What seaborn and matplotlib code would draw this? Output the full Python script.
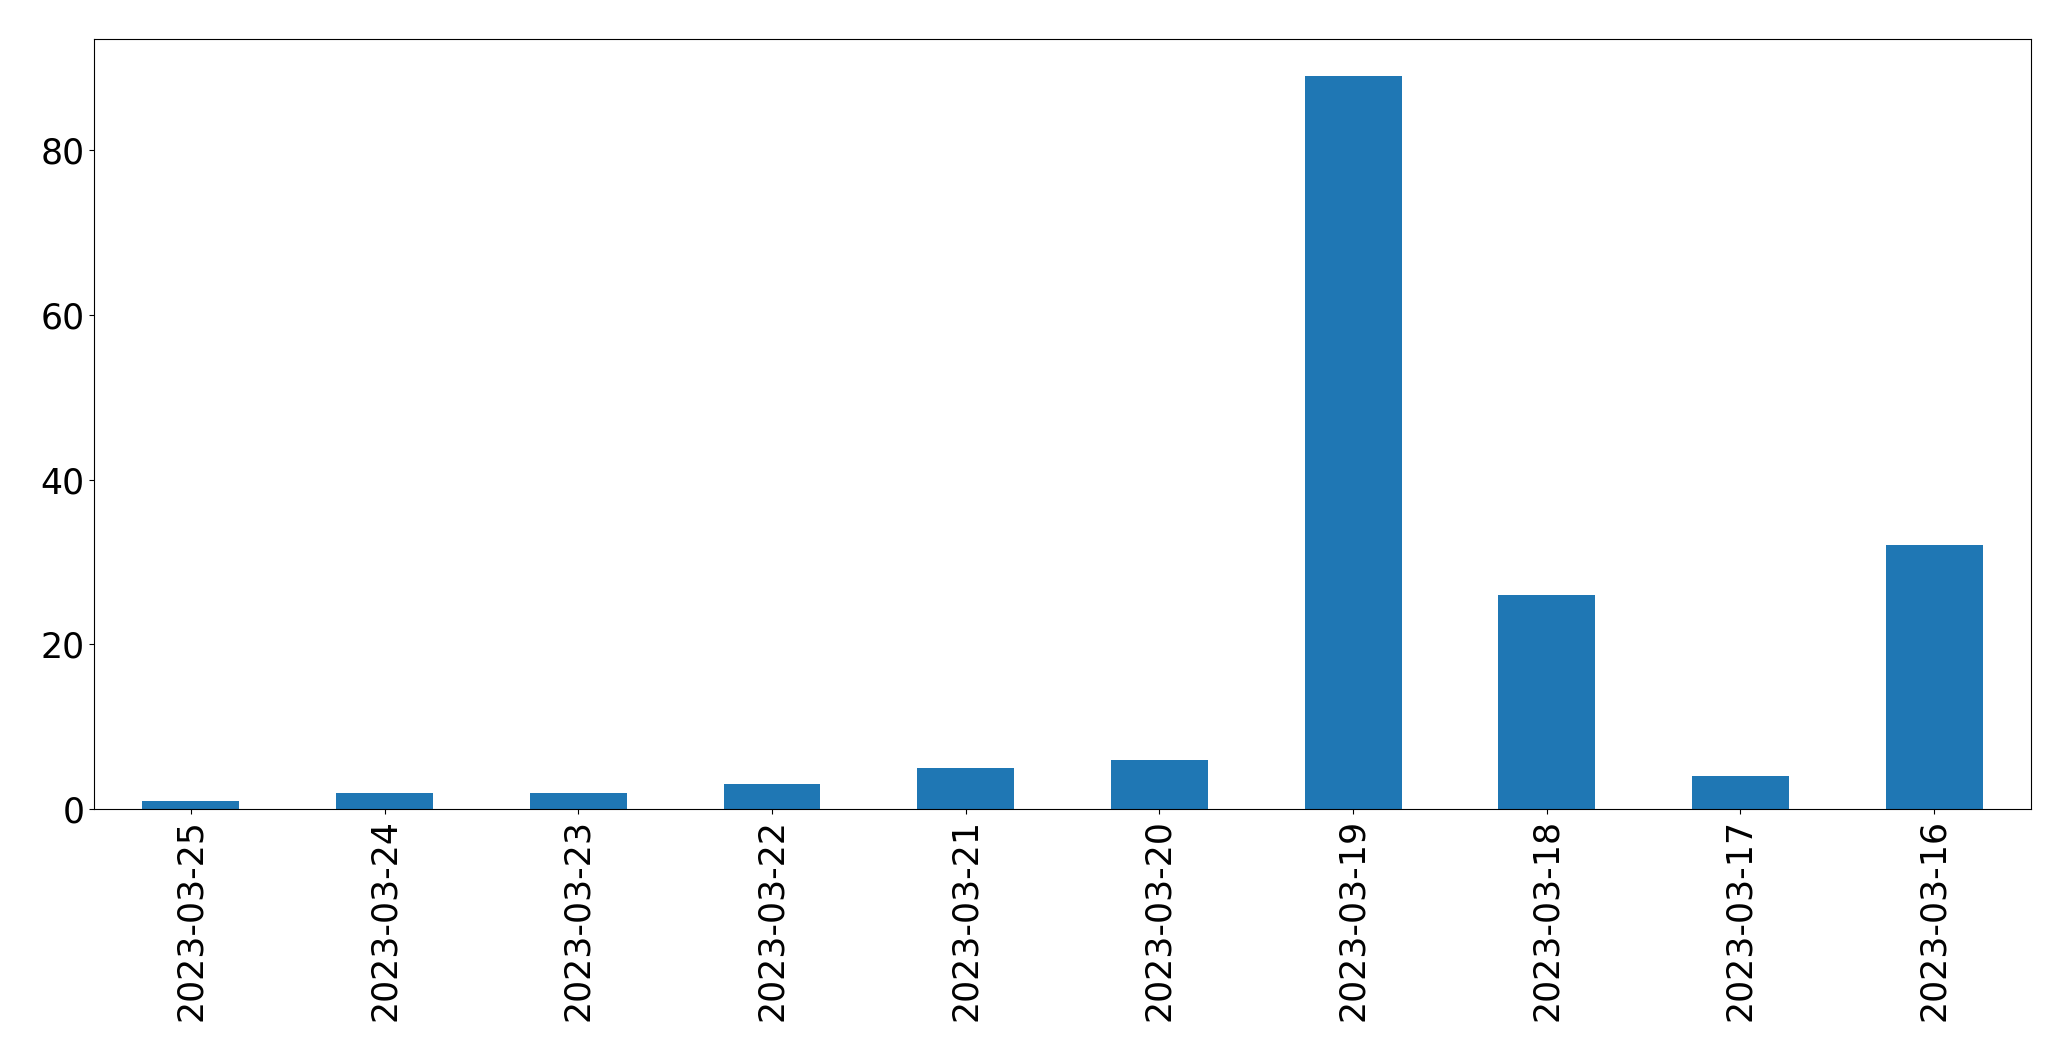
import matplotlib
matplotlib.use("Agg")
import matplotlib.pyplot as plt
import seaborn as sns
import pandas as pd

# ── data ──────────────────────────────────────────────────────────────────────
dates = ["2023-03-25", "2023-03-24", "2023-03-23", "2023-03-22", "2023-03-21",
         "2023-03-20", "2023-03-19", "2023-03-18", "2023-03-17", "2023-03-16"]
counts = [1, 2, 2, 3, 5, 6, 89, 26, 4, 32]

df = pd.DataFrame({"date": dates, "count": counts})

# ── plot ──────────────────────────────────────────────────────────────────────
fig = plt.figure(figsize=(20.71, 10.61), dpi=100)
ax = fig.add_axes([0.0454, 0.2375, 0.9353, 0.7253])

sns.barplot(data=df, x="date", y="count", order=dates, color="#1f77b4",
            saturation=1, width=0.5, ax=ax)

ax.set_xlim(-0.5, len(dates) - 0.5)
ax.set_ylim(0, max(counts) * 1.05)
ax.set_xlabel("")
ax.set_ylabel("")
ax.tick_params(axis="both", labelsize=25)
ax.tick_params(axis="x", labelrotation=90)

fig.savefig("out.png", dpi=100)
